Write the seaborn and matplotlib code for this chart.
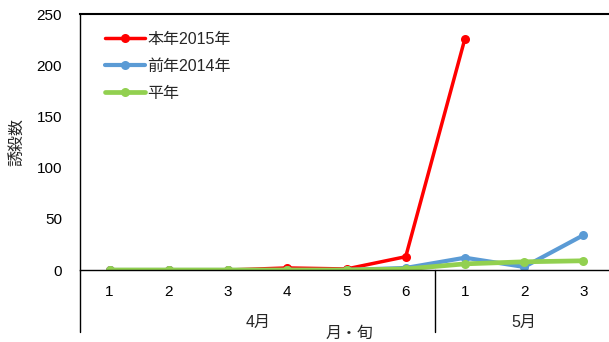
import matplotlib
matplotlib.use("Agg")
import matplotlib.pyplot as plt
import seaborn as sns
import pandas as pd
import matplotlib.transforms as mtrans

sns.set_theme(style="white")
plt.rcParams['font.family'] = ['Liberation Sans', 'Noto Sans CJK JP', 'DejaVu Sans']

# Data
decade_labels = ["1", "2", "3", "4", "5", "6", "1", "2", "3"]
months = ["4月", "5月"]
y2015 = [0, 0, 0, 2, 1, 13, 226]
y2014 = [0, 0, 0, 0, 0, 2, 12, 3, 34]
normal = [0, 0, 0, 0, 0, 1, 6, 8, 9]
series_names = ["本年2015年", "前年2014年", "平年"]
colors = ["#FF0000", "#5B9BD5", "#92D050"]

W, H = 609, 342
fig = plt.figure(figsize=(W / 100, H / 100), dpi=100)
left, right, top, bottom = 80, 613, 14, 270
ax = fig.add_axes([left / W, (H - bottom) / H, (right - left) / W, (bottom - top) / H])

for name, vals, col, lw in zip(series_names, [y2015, y2014, normal], colors, [2.5, 3.0, 3.4]):
    df = pd.DataFrame({"x": list(range(len(vals))), "y": vals})
    sns.lineplot(data=df, x="x", y="y", ax=ax, color=col, linewidth=lw,
                 marker="o", markersize=6.5, markeredgewidth=0, label=name)

ax.set_xlim(-0.5, 8.5)
ax.set_ylim(0, 250)
ax.set_yticks([0, 50, 100, 150, 200, 250])
ax.set_xticks(range(len(decade_labels)))
ax.set_xticklabels(decade_labels)
ax.tick_params(axis="both", length=0, labelsize=11, colors="#000000")
ax.tick_params(axis="x", pad=11)
ax.tick_params(axis="y", pad=13)
ax.set_xlabel("")
ax.set_ylabel("誘殺数", fontsize=11.5, labelpad=8)
for s in ["left", "top", "bottom"]:
    ax.spines[s].set_color("#000000")
    ax.spines[s].set_linewidth(1.0)
ax.spines["right"].set_visible(False)
ax.spines["top"].set_linewidth(1.5)

# Month grouping lines below the axis
trans = mtrans.blended_transform_factory(ax.transData, ax.transAxes)
ybot = -(332 - 270) / (bottom - top)
for xv in [-0.5, 5.5]:
    ax.plot([xv, xv], [0, ybot], color="#000000", lw=1.0, transform=trans, clip_on=False)
ylab = -(322 - 270) / (bottom - top)
ax.text(2.5, ylab, months[0], transform=trans, ha="center", va="center", fontsize=11.5)
ax.text(7.0, ylab, months[1], transform=trans, ha="center", va="center", fontsize=11.5)
ax.text(4.05, -(333 - 270) / (bottom - top), "月・旬", transform=trans,
        ha="center", va="center", fontsize=11.5)

leg = ax.legend(loc="upper left", bbox_to_anchor=(0.035, 0.955), frameon=False,
                fontsize=11.5, handlelength=2.5, handletextpad=0.15, labelspacing=0.75,
                borderaxespad=0.0)

fig.savefig("out.png", dpi=100)
